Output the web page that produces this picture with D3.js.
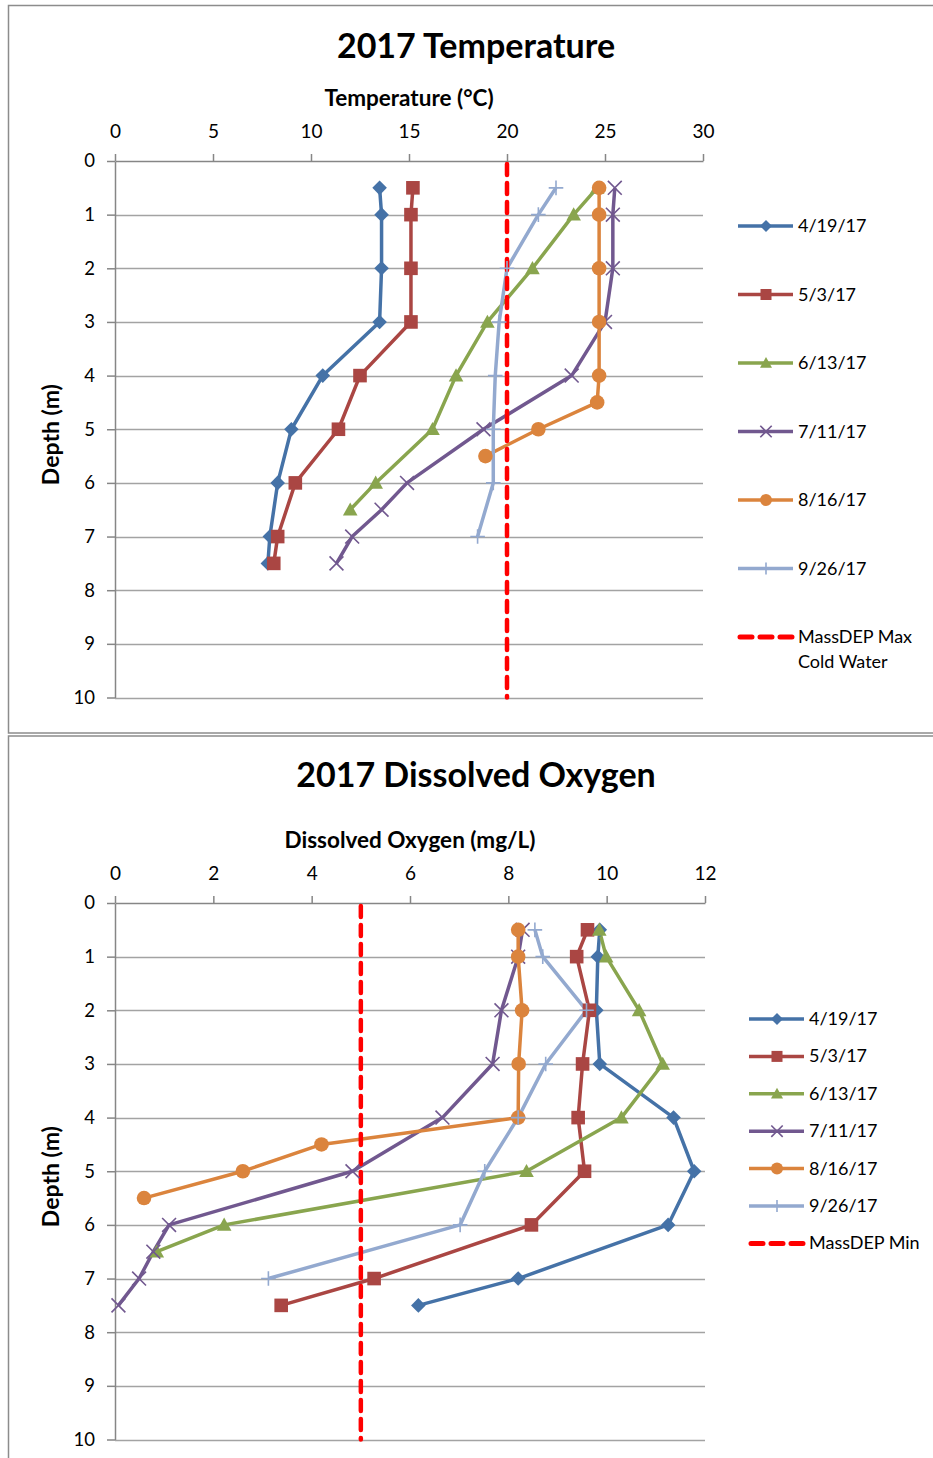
<!DOCTYPE html>
<html>
<head>
<meta charset="utf-8">
<script src="https://cdn.jsdelivr.net/npm/d3@7"></script>
<style>
  body { margin: 0; background: #fff; }
  svg { display: block; font-family: Lato, "Open Sans", sans-serif; }
</style>
</head>
<body>
<svg width="933" height="1458"></svg>
<script>
// series names (sampling dates)
const dates = ["4/19/17", "5/3/17", "6/13/17", "7/11/17", "8/16/17", "9/26/17"];

// depths (m) sampled on each date
const depths = [
  [0.5, 1, 2, 3, 4, 5, 6, 7, 7.5],
  [0.5, 1, 2, 3, 4, 5, 6, 7, 7.5],
  [0.5, 1, 2, 3, 4, 5, 6, 6.5],
  [0.5, 1, 2, 3, 4, 5, 6, 6.5, 7, 7.5],
  [0.5, 1, 2, 3, 4, 4.5, 5, 5.5],
  [0.5, 1, 2, 3, 4, 5, 6, 7]
];

// temperature (°C), same order as depths
const temperature = [
  [13.5, 13.6, 13.6, 13.5, 10.6, 9.0, 8.3, 7.9, 7.8],
  [15.2, 15.1, 15.1, 15.1, 12.5, 11.4, 9.2, 8.3, 8.1],
  [24.6, 23.4, 21.3, 19.0, 17.4, 16.2, 13.3, 12.0],
  [25.5, 25.4, 25.4, 25.0, 23.3, 18.8, 14.9, 13.6, 12.1, 11.3],
  [24.7, 24.7, 24.7, 24.7, 24.7, 24.6, 21.6, 18.9],
  [22.5, 21.6, 20.0, 19.6, 19.4, 19.3, 19.3, 18.5]
];

// dissolved oxygen (mg/L)
const oxygen = [
  [9.86, 9.82, 9.79, 9.86, 11.36, 11.78, 11.25, 8.2, 6.17],
  [9.61, 9.39, 9.65, 9.51, 9.42, 9.55, 8.47, 5.27, 3.38],
  [9.85, 9.99, 10.66, 11.14, 10.3, 8.37, 2.22, 0.85],
  [8.29, 8.2, 7.86, 7.68, 6.66, 4.83, 1.1, 0.78, 0.49, 0.07],
  [8.2, 8.2, 8.28, 8.21, 8.2, 4.2, 2.6, 0.59],
  [8.54, 8.7, 9.59, 8.76, 8.2, 7.52, 7.02, 3.12]
];

const tempLimit = 20;   // MassDEP max cold water
const doLimit = 5;      // MassDEP min
const tempTicks = [0, 5, 10, 15, 20, 25, 30];
const doTicks = [0, 2, 4, 6, 8, 10, 12];
const depthTicks = [0, 1, 2, 3, 4, 5, 6, 7, 8, 9, 10];

const colors = ["#4572A7", "#AA4643", "#89A54E", "#71588F", "#DB843D", "#93A9CF"];
const shapes = ["diamond", "square", "triangle", "x", "circle", "plus"];

const svg = d3.select("svg");

// chart frames
svg.append("rect").attr("x", 8.5).attr("y", 5.5).attr("width", 940).attr("height", 727.5)
  .attr("fill", "none").attr("stroke", "#8c8c8c").attr("stroke-width", 1.5);
svg.append("rect").attr("x", 8.5).attr("y", 736).attr("width", 940).attr("height", 740)
  .attr("fill", "none").attr("stroke", "#8c8c8c").attr("stroke-width", 1.5);

function drawMarker(g, shape, color, s) {
  if (shape == "diamond") {
    g.append("path").attr("d", `M0,${-s}L${s},0L0,${s}L${-s},0Z`).attr("fill", color);
  } else if (shape == "square") {
    g.append("rect").attr("x", -s + 0.5).attr("y", -s + 0.5).attr("width", 2 * s - 1).attr("height", 2 * s - 1).attr("fill", color);
  } else if (shape == "triangle") {
    g.append("path").attr("d", `M0,${-s}L${s},${s * 0.8}L${-s},${s * 0.8}Z`).attr("fill", color);
  } else if (shape == "circle") {
    g.append("circle").attr("r", s).attr("fill", color);
  } else if (shape == "x") {
    const a = s * 0.95;
    g.append("path").attr("d", `M${-a},${-a}L${a},${a}M${-a},${a}L${a},${-a}`)
      .attr("stroke", color).attr("stroke-width", 1.6).attr("fill", "none");
  } else if (shape == "plus") {
    g.append("path").attr("d", `M${-s},0L${s},0M0,${-s}L0,${s}`)
      .attr("stroke", color).attr("stroke-width", 1.6).attr("fill", "none");
  }
}

function drawChart(opt) {
  const x = d3.scaleLinear().domain(opt.xDomain).range([115, opt.right]);
  const y = d3.scaleLinear().domain([0, 10]).range([opt.top, opt.top + 536.5]);
  const g = svg.append("g");

  // title + axis titles
  g.append("text").attr("x", 476).attr("y", opt.titleY).attr("text-anchor", "middle")
    .attr("font-size", 34).attr("font-weight", "bold").text(opt.title);
  g.append("text").attr("x", (115 + opt.right) / 2).attr("y", opt.top - 55).attr("text-anchor", "middle")
    .attr("font-size", 22.5).attr("font-weight", "bold").text(opt.xTitle);
  g.append("text").attr("transform", `translate(59,${y(5.1)}) rotate(-90)`).attr("text-anchor", "middle")
    .attr("font-size", 23).attr("font-weight", "bold").text("Depth (m)");

  // gridlines
  g.append("g").selectAll("line").data(depthTicks.slice(1)).join("line")
    .attr("x1", 115).attr("x2", opt.right)
    .attr("y1", d => Math.round(y(d)) + 0.5).attr("y2", d => Math.round(y(d)) + 0.5)
    .attr("stroke", "#a3a3a3").attr("stroke-width", 1.5);

  // top axis
  const xAxis = g.append("g").attr("transform", `translate(0,${opt.top})`)
    .call(d3.axisTop(x).tickValues(opt.xTicks).tickSize(7).tickPadding(16).tickSizeOuter(0));
  xAxis.select(".domain").attr("stroke", "#868686").attr("stroke-width", 1.5);
  xAxis.selectAll(".tick line").attr("stroke", "#868686").attr("stroke-width", 1.5);
  xAxis.selectAll("text").attr("font-size", 19).attr("fill", "#000").attr("font-family", "Lato, sans-serif");

  // left axis
  const yAxis = g.append("g").attr("transform", "translate(115,0)")
    .call(d3.axisLeft(y).tickValues(depthTicks).tickSize(8).tickPadding(12).tickSizeOuter(0));
  yAxis.select(".domain").attr("stroke", "#868686").attr("stroke-width", 1.5);
  yAxis.selectAll(".tick line").attr("stroke", "#868686").attr("stroke-width", 1.5);
  yAxis.selectAll("text").attr("font-size", 18.5).attr("fill", "#000").attr("font-family", "Lato, sans-serif");

  // series
  const line = d3.line().x(d => x(d[0])).y(d => y(d[1]));
  dates.forEach((name, i) => {
    const pts = opt.values[i].map((v, j) => [v, depths[i][j]]);
    g.append("path").datum(pts).attr("d", line).attr("fill", "none")
      .attr("stroke", colors[i]).attr("stroke-width", 3.5).attr("stroke-linejoin", "round");
  });

  // limit line
  g.append("line").attr("x1", x(opt.limit)).attr("x2", x(opt.limit))
    .attr("y1", opt.top + 3).attr("y2", y(10))
    .attr("stroke", "#ff0000").attr("stroke-width", 4.5)
    .attr("stroke-dasharray", "11,8").attr("stroke-linecap", "round");

  dates.forEach((name, i) => {
    opt.values[i].forEach((v, j) => {
      const m = g.append("g").attr("transform", `translate(${x(v)},${y(depths[i][j])})`);
      drawMarker(m, shapes[i], colors[i], 7.3);
    });
  });

  // legend
  const lg = g.append("g");
  dates.forEach((name, i) => {
    const ly = opt.legY + i * opt.legStep;
    lg.append("line").attr("x1", opt.legX).attr("x2", opt.legX + 55).attr("y1", ly).attr("y2", ly)
      .attr("stroke", colors[i]).attr("stroke-width", 3.5);
    const m = lg.append("g").attr("transform", `translate(${opt.legX + 28},${ly})`);
    drawMarker(m, shapes[i], colors[i], 6);
    lg.append("text").attr("x", opt.legX + 60).attr("y", ly + 6).attr("font-size", 18).text(name);
  });
  const ly = opt.legY + 6 * opt.legStep;
  lg.append("line").attr("x1", opt.legX + 2).attr("x2", opt.legX + 55).attr("y1", ly).attr("y2", ly)
    .attr("stroke", "#ff0000").attr("stroke-width", 5)
    .attr("stroke-dasharray", "12,8").attr("stroke-linecap", "round");
  opt.limitLabel.forEach((t, k) => {
    lg.append("text").attr("x", opt.legX + 60).attr("y", ly + 6 + k * 25).attr("font-size", 18).text(t);
  });
}

drawChart({
  title: "2017 Temperature", titleY: 58, xTitle: "Temperature (°C)",
  xDomain: [0, 30], xTicks: tempTicks, right: 703, top: 161,
  values: temperature, limit: tempLimit,
  legX: 738, legY: 226, legStep: 68.5, limitLabel: ["MassDEP Max", "Cold Water"]
});

drawChart({
  title: "2017 Dissolved Oxygen", titleY: 787, xTitle: "Dissolved Oxygen (mg/L)",
  xDomain: [0, 12], xTicks: doTicks, right: 705, top: 903,
  values: oxygen, limit: doLimit,
  legX: 749, legY: 1019, legStep: 37.4, limitLabel: ["MassDEP Min"]
});
</script>
</body>
</html>
